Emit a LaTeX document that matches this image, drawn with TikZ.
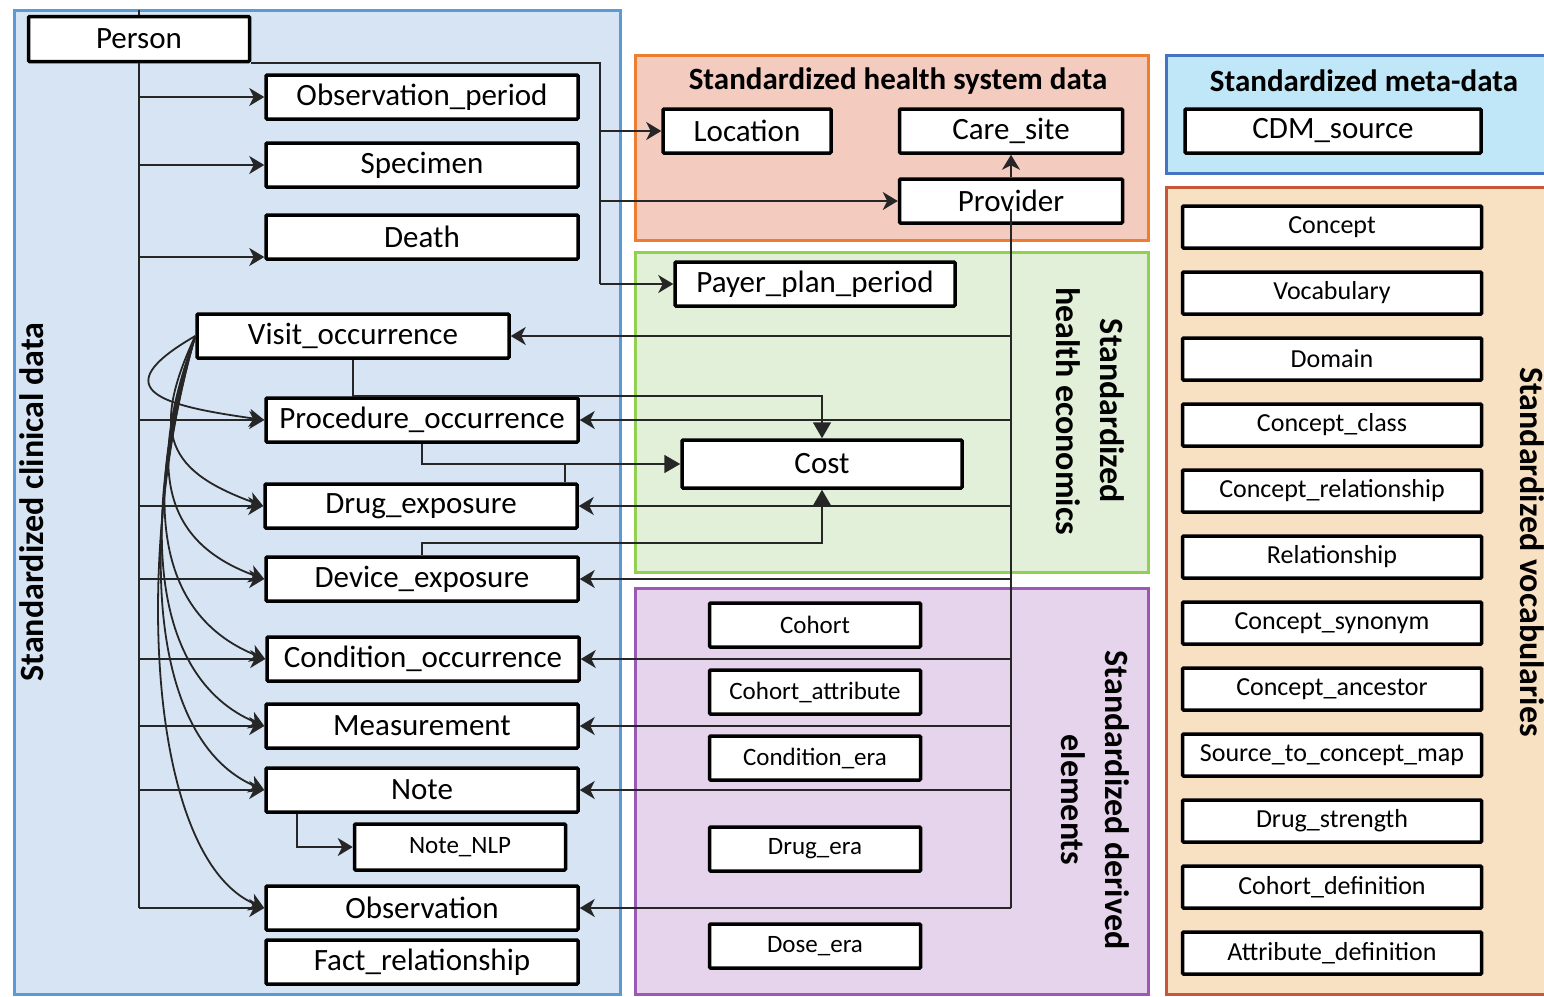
\documentclass[tikz,border=0pt]{standalone}
\usepackage{fontspec}
\setmainfont{Carlito}
\usetikzlibrary{arrows.meta,positioning,calc}

\definecolor{clinfill}{HTML}{D6E4F3}
\definecolor{clindraw}{HTML}{5B9BD5}
\definecolor{sysfill}{HTML}{F3CBBF}
\definecolor{sysdraw}{HTML}{ED7D31}
\definecolor{metafill}{HTML}{BFE7F8}
\definecolor{metadraw}{HTML}{4472C4}
\definecolor{ecofill}{HTML}{E2F0D9}
\definecolor{ecodraw}{HTML}{92D050}
\definecolor{derfill}{HTML}{E6D4EC}
\definecolor{derdraw}{HTML}{9B59B6}
\definecolor{vocfill}{HTML}{F8E0C3}
\definecolor{vocdraw}{HTML}{C8573A}

\begin{document}
\begin{tikzpicture}[x=1pt, y=-1pt,
    tbl/.style={draw, line width=3.5pt, fill=white, rounded corners=1pt, inner sep=0pt,
        minimum width=312pt, minimum height=44pt, font=\fontsize{31}{36}\selectfont},
    small/.style={tbl, minimum width=211pt, font=\fontsize{25}{30}\selectfont},
    voc/.style={small, minimum width=299pt, minimum height=42pt, font=\fontsize{26}{30}\selectfont},
    panel/.style={line width=3pt},
    hdr/.style={font=\bfseries\fontsize{31}{44}\selectfont, align=center},
    side/.style={hdr, font=\bfseries\fontsize{34}{44}\selectfont},
    wire/.style={line width=1.8pt, draw=black!85},
    conn/.style={wire, -{Stealth[length=15pt, width=18pt, inset=4.5pt]}},
    costconn/.style={wire, -{Triangle[length=16pt, width=18pt]}}]
    \useasboundingbox (0,0) rectangle (1544,996);

    % Panels
    \draw[panel, fill=clinfill, draw=clindraw] (14,10) rectangle (620,994);
    \draw[panel, fill=sysfill, draw=sysdraw] (635,55) rectangle (1148,240);
    \draw[panel, fill=metafill, draw=metadraw] (1166,55) rectangle (1550,173);
    \draw[panel, fill=ecofill, draw=ecodraw] (635,252) rectangle (1148,572);
    \draw[panel, fill=derfill, draw=derdraw] (635,588) rectangle (1148,994);
    \draw[panel, fill=vocfill, draw=vocdraw] (1166,187) rectangle (1550,994);

    % Panel labels
    \node[side, rotate=90] (clinlbl) at (32,502) {Standardized clinical data};
    \node[hdr] (syslbl) at (898,81) {Standardized health system data};
    \node[hdr] (metalbl) at (1364,81) {Standardized meta-data};
    \node[side, rotate=-90] (ecolbl) at (1090,411) {Standardized\\health economics};
    \node[side, rotate=-90] (derlbl) at (1095,800) {Standardized derived\\elements};
    \node[side, rotate=-90] (voclbl) at (1532,552) {Standardized vocabularies};

    % Clinical tables
    \node[tbl, minimum width=221pt, minimum height=45pt] (person) at (139,39) {Person};
    \node[tbl] (obsper) at (422,97) {Observation\_period};
    \node[tbl] (spec) at (422,165) {Specimen};
    \node[tbl] (death) at (422,237) {Death};
    \node[tbl] (visit) at (353,336) {Visit\_occurrence};
    \node[tbl] (proc) at (422,420) {Procedure\_occurrence};
    \node[tbl] (drug) at (421,506) {Drug\_exposure};
    \node[tbl] (dev) at (422,579) {Device\_exposure};
    \node[tbl] (cond) at (423,659) {Condition\_occurrence};
    \node[tbl] (meas) at (422,726) {Measurement};
    \node[tbl] (note) at (422,790) {Note};
    \node[small, minimum height=46pt] (nlp) at (460,847) {Note\_NLP};
    \node[tbl] (obs) at (422,908) {Observation};
    \node[tbl] (fact) at (422,962) {Fact\_relationship};

    % Health system and economics
    \node[tbl, minimum width=168pt] (location) at (747,131) {Location};
    \node[tbl, minimum width=223pt] (caresite) at (1011,131) {Care\_site};
    \node[tbl, minimum width=223pt] (provider) at (1011,201) {Provider};
    \node[tbl, minimum width=280pt] (payer) at (815,284) {Payer\_plan\_period};
    \node[tbl, minimum width=280pt, minimum height=48pt] (cost) at (822,464) {Cost};

    % Derived elements
    \node[small] (cohort) at (815,625) {Cohort};
    \node[small] (cohattr) at (815,692) {Cohort\_attribute};
    \node[small] (condera) at (815,758) {Condition\_era};
    \node[small] (drugera) at (815,849) {Drug\_era};
    \node[small] (doseera) at (815,946) {Dose\_era};

    % Meta-data and vocabularies
    \node[tbl, minimum width=296pt] (cdm) at (1333,131) {CDM\_source};
    \foreach \name [count=\i] in {Concept, Vocabulary, Domain, Concept\_class,
        Concept\_relationship, Relationship, Concept\_synonym, Concept\_ancestor,
        Source\_to\_concept\_map, Drug\_strength, Cohort\_definition, Attribute\_definition}
        \node[voc] (voc\i) at (1332,161+66*\i) {\name};

    % Person links
    \draw[wire] (person.north |- 0,10) -- (person.north);
    \draw[wire] (person.south) -- (person.south |- obs.west);
    \foreach \dst in {obsper, spec, proc, drug, dev, cond, meas, note, obs}
        \draw[conn] (person.south |- \dst.west) -- (\dst.west);
    \coordinate (deathin) at ([yshift=-20pt]death.west);
    \draw[conn] (person.south |- deathin) -- (deathin);

    \coordinate (hsbus) at (600,63);
    \draw[wire] (person.south east) -- (hsbus |- person.south east) -- (hsbus |- payer.west);
    \foreach \dst in {location, provider, payer}
        \draw[conn] (hsbus |- \dst.west) -- (\dst.west);

    % Visit links
    \foreach \dst/\oa/\od/\ia/\id in {proc/210/110/172/100, drug/245/110/160/100,
        dev/250/140/160/110, cond/252/170/158/120, meas/253/190/157/125,
        note/254/210/157/125, obs/254/233/157/125}
        \draw[conn] (visit.west) to[out=\oa, in=\ia, out distance=\od pt, in distance=\id pt] (\dst.west);

    % Provider links
    \draw[conn] (provider.north) -- (caresite.south);
    \draw[wire] ([yshift=-8pt]provider.center) -- (provider.center |- obs.east);
    \foreach \dst in {visit, proc, drug, dev, cond, meas, note, obs}
        \draw[conn] (provider.south |- \dst.east) -- (\dst.east);

    % Cost links
    \draw[costconn] (visit.south) -- (visit.south |- proc.north) -| (cost.north);
    \draw[costconn] (proc.south) |- (cost.west);
    \draw[wire] ([xshift=-14pt]drug.north east) -- ([xshift=-14pt]drug.north east |- cost.west);
    \draw[costconn] (dev.north) |- ([yshift=-53pt]cost.south) -- (cost.south);

    % Note detail
    \draw[conn] ([xshift=33pt]note.south west) |- (nlp.west);
\end{tikzpicture}
\end{document}
